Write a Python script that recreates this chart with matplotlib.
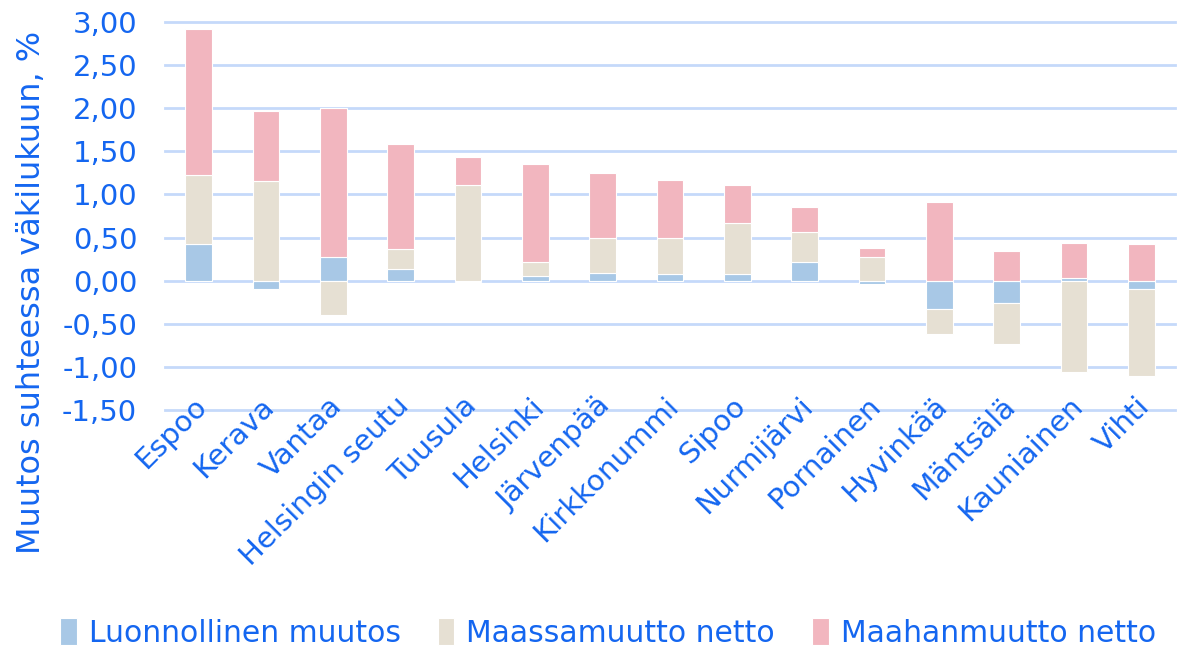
import matplotlib
matplotlib.use("Agg")
import matplotlib.pyplot as plt
import matplotlib.transforms as mtrans
import numpy as np

# kunnat ja muutoskomponentit, % väkiluvusta
kunnat = ["Espoo", "Kerava", "Vantaa", "Helsingin seutu", "Tuusula", "Helsinki",
          "Järvenpää", "Kirkkonummi", "Sipoo", "Nurmijärvi", "Pornainen",
          "Hyvinkää", "Mäntsälä", "Kauniainen", "Vihti"]
luonnollinen = [0.43, -0.10, 0.28, 0.14, -0.01, 0.05, 0.09, 0.08, 0.08, 0.22, -0.04,
                -0.33, -0.26, 0.03, -0.10]
maassamuutto = [0.80, 1.16, -0.40, 0.23, 1.11, 0.17, 0.41, 0.42, 0.59, 0.35, 0.28,
                -0.29, -0.48, -1.06, -1.01]
maahanmuutto = [1.69, 0.81, 1.72, 1.21, 0.32, 1.13, 0.75, 0.67, 0.44, 0.28, 0.10,
                0.91, 0.34, 0.41, 0.43]

sarjat = ["Luonnollinen muutos", "Maassamuutto netto", "Maahanmuutto netto"]
varit = ["#A8C8E6", "#E6E0D3", "#F2B6BF"]
tekstivari = "#1466F0"

plt.rcParams["font.family"] = ["DejaVu Sans"]

fig = plt.figure(figsize=(11.79, 6.46), dpi=100)
ax = fig.add_axes([165 / 1179, 1 - 410 / 646, 1010 / 1179, 388 / 646])

x = np.arange(len(kunnat))
pos = np.zeros(len(kunnat))
neg = np.zeros(len(kunnat))
for nimi, arvot, vari in zip(sarjat, [luonnollinen, maassamuutto, maahanmuutto], varit):
    arvot = np.array(arvot)
    pohja = np.where(arvot >= 0, pos, neg)
    ax.bar(x, arvot, 0.4, bottom=pohja, color=vari, edgecolor="white",
           linewidth=0.8, label=nimi, zorder=3)
    pos = pos + np.where(arvot >= 0, arvot, 0)
    neg = neg + np.where(arvot < 0, arvot, 0)

ax.set_xlim(-0.5, len(kunnat) - 0.5)
ax.set_ylim(-1.5, 3.0)
ticks = np.arange(-1.5, 3.01, 0.5)
for t in ticks:
    ax.axhline(t, color="#C5D9FA", linewidth=2, zorder=0, clip_on=False)
ax.set_yticks(ticks)
ax.set_yticklabels([f"{t:.2f}".replace(".", ",") for t in ticks],
                   fontsize=21, color=tekstivari)
ax.set_xticks(x)
ax.set_xticklabels(kunnat, rotation=45, ha="right", rotation_mode="anchor",
                   fontsize=21, color=tekstivari)
ax.tick_params(axis="y", length=0, pad=20)
ax.tick_params(axis="x", length=0, pad=0)
# nimiöt hieman ylös ja vasemmalle kuten Excelissä
siirto = mtrans.ScaledTranslation(-6 / 100, 18 / 100, fig.dpi_scale_trans)
for lab in ax.get_xticklabels():
    lab.set_transform(lab.get_transform() + siirto)
for s in ax.spines.values():
    s.set_visible(False)

ax.set_ylabel("Muutos suhteessa väkilukuun, %", fontsize=23, color=tekstivari)
ax.yaxis.set_label_coords(-0.117, 0.304)

leg = fig.legend(loc="center", bbox_to_anchor=(608 / 1179, 1 - 633 / 646), ncol=3,
                 frameon=False, fontsize=21.5, handlelength=0.55, handleheight=1.0,
                 handletextpad=0.4, columnspacing=1.25)
for t in leg.get_texts():
    t.set_color(tekstivari)

fig.savefig("out.png", dpi=100)
